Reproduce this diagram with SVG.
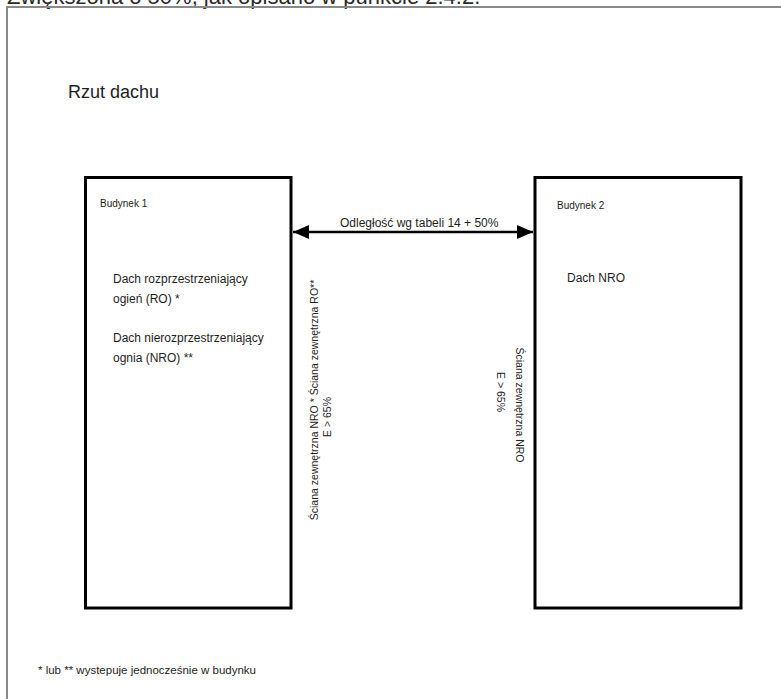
<svg xmlns="http://www.w3.org/2000/svg" width="781" height="699" viewBox="0 0 781 699">
  <style>
    .t { font-family: "Liberation Sans", Arial, sans-serif; fill: #1e1e1e; }
    .head { font-size: 22px; fill: #2a2a2a; }
    .title { font-size: 18px; }
    .lbl { font-size: 10px; }
    .body { font-size: 12px; }
    .wall { font-size: 10.5px; }
    .note { font-size: 11.5px; }
    .bldg { fill: #ffffff; stroke: #000000; stroke-width: 3; }
    .frame { fill: none; stroke: #8a8a8a; stroke-width: 2; }
    .dim { stroke: #000000; stroke-width: 2.5; fill: none; }
  </style>
  <defs>
    <marker id="head-end" markerUnits="userSpaceOnUse" markerWidth="17" markerHeight="14" refX="16" refY="7" orient="auto">
      <path d="M0,0 L16,7 L0,14 Z" fill="#000000"/>
    </marker>
    <marker id="head-start" markerUnits="userSpaceOnUse" markerWidth="17" markerHeight="14" refX="0" refY="7" orient="auto">
      <path d="M16,0 L0,7 L16,14 Z" fill="#000000"/>
    </marker>
  </defs>

  <rect width="781" height="699" fill="#ffffff"/>

  <!-- preceding paragraph, clipped by the page edge -->
  <text class="t head" x="7" y="4">Zwiększona o 50%, jak opisano w punkcie 2.4.2.</text>

  <!-- page frame -->
  <path class="frame" d="M7,699 V7 H781"/>

  <text class="t title" x="68" y="98">Rzut dachu</text>

  <g id="budynek-1">
    <rect class="bldg" x="85.5" y="177.5" width="205.5" height="430.5"/>
    <text class="t lbl" x="100" y="207">Budynek 1</text>
    <text class="t body" x="113" y="283">Dach rozprzestrzeniający</text>
    <text class="t body" x="113" y="303">ogień (RO) *</text>
    <text class="t body" x="113" y="342">Dach nierozprzestrzeniający</text>
    <text class="t body" x="113" y="362">ognia (NRO) **</text>
  </g>

  <g id="sciana-1">
    <text class="t wall" transform="translate(318,400) rotate(-90)" text-anchor="middle">Ściana zewnętrzna NRO *  Ściana zewnętrzna RO**</text>
    <text class="t wall" transform="translate(331,417) rotate(-90)" text-anchor="middle">E &gt; 65%</text>
  </g>

  <g id="budynek-2">
    <rect class="bldg" x="535" y="177.5" width="206" height="430.5"/>
    <text class="t lbl" x="557" y="209">Budynek 2</text>
    <text class="t body" x="567" y="282">Dach NRO</text>
  </g>

  <g id="sciana-2">
    <text class="t wall" transform="translate(516,405) rotate(90)" text-anchor="middle">Ściana zewnętrzna NRO</text>
    <text class="t wall" transform="translate(497,392) rotate(90)" text-anchor="middle">E &gt; 65%</text>
  </g>

  <g id="connectors">
    <line class="dim" x1="293" y1="232" x2="533" y2="232" marker-start="url(#head-start)" marker-end="url(#head-end)"/>
    <text class="t body" x="340" y="227">Odległość wg tabeli 14 + 50%</text>
  </g>

  <text class="t note" x="38" y="674">*  lub ** wystepuje jednocześnie w budynku</text>
</svg>
